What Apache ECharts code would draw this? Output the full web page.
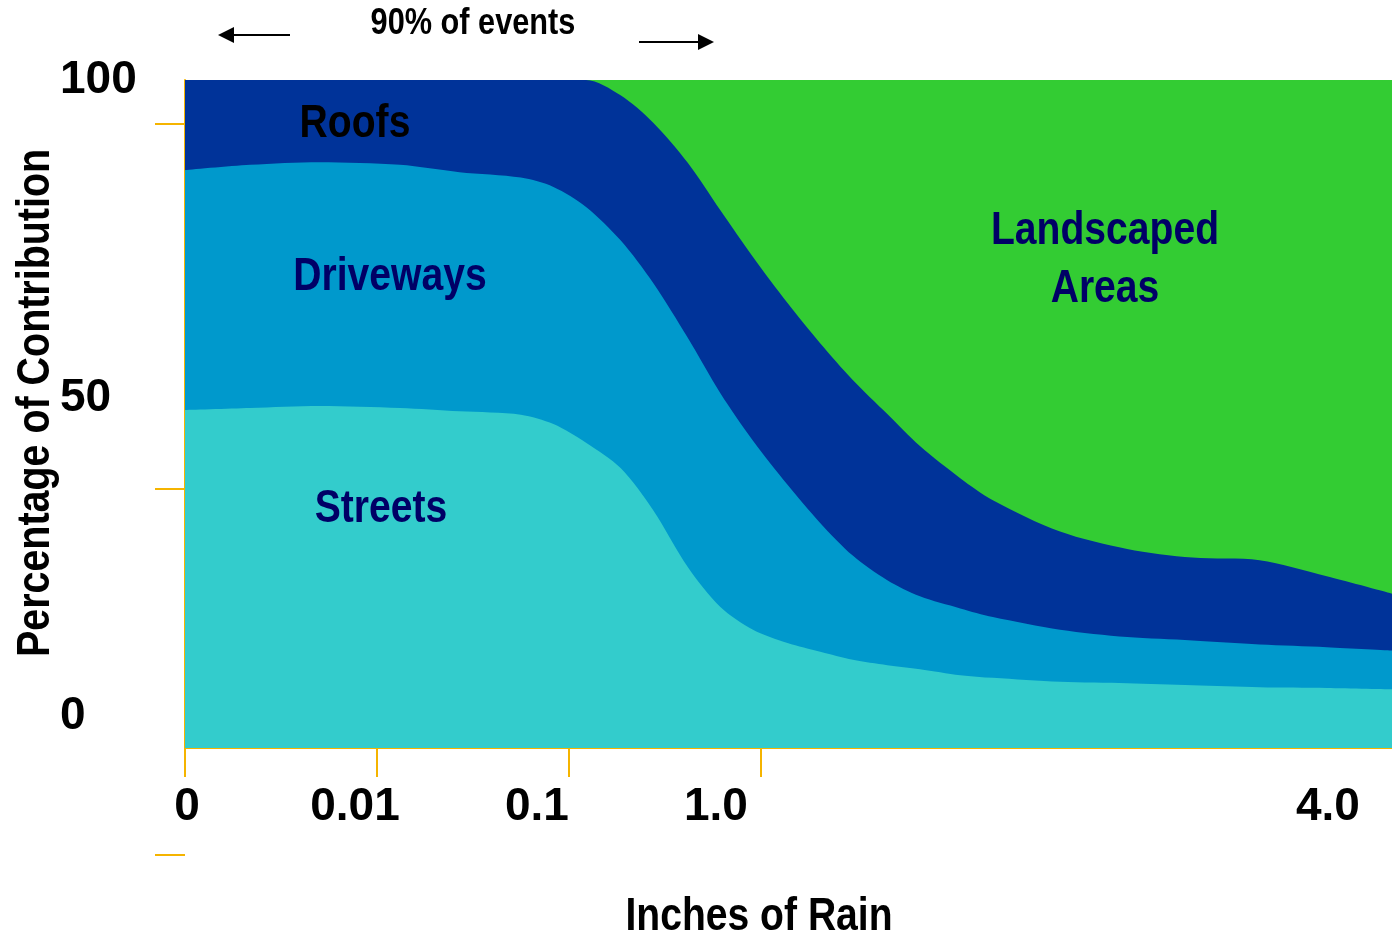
<!DOCTYPE html>
<html>
<head>
<meta charset="utf-8">
<script src="https://cdn.jsdelivr.net/npm/echarts@6/dist/echarts.min.js"></script>
<style>
  html, body { margin: 0; padding: 0; background: #fff; }
  #chart { width: 1392px; height: 937px; }
</style>
</head>
<body>
<div id="chart"></div>
<script>
// x positions along the (log-like) rain axis, in tick spacings: 0 -> "0", 1 -> "0.01", 2 -> "0.1", 3 -> "1.0"
var rainPos = [0, 0.34, 0.70, 1.12, 1.43, 1.75, 1.92, 2.09, 2.27, 2.44, 2.62, 2.79, 2.96, 3.14, 3.31, 3.48, 3.66, 3.83, 4.04, 4.21, 4.56, 4.91, 5.25, 5.60, 5.95, 6.29];

// percentage of contribution per source
var streets    = [50.6, 50.9, 51.2, 50.9, 50.4, 49.9, 48.5, 45.7, 41.9, 35.6, 27.1, 21.1, 17.7, 15.7, 14.4, 13.2, 12.4, 11.8, 10.9, 10.5, 9.9, 9.7, 9.4, 9.1, 9.0, 8.8];
var driveways  = [35.9, 36.4, 36.5, 36.4, 35.8, 35.5, 35.5, 35.3, 34.1, 34.0, 34.3, 32.0, 28.3, 23.7, 19.3, 15.6, 12.7, 10.9, 10.0, 9.1, 7.8, 6.9, 6.7, 6.4, 6.1, 5.8];
var roofs      = [13.5, 12.7, 12.3, 12.7, 13.8, 14.6, 16.0, 19.0, 21.7, 24.0, 26.2, 27.4, 27.5, 27.2, 26.9, 26.3, 24.9, 22.5, 19.5, 17.5, 14.7, 13.2, 12.4, 12.6, 10.6, 8.5];
var landscaped = [0, 0, 0, 0, 0, 0, 0, 0, 2.3, 6.4, 12.4, 19.5, 26.5, 33.4, 39.4, 44.9, 50.0, 54.8, 59.6, 62.9, 67.6, 70.2, 71.5, 71.9, 74.3, 76.9];

var xTickPos = [0, 1, 2, 3];
var xLabelPos = [0.01, 0.886, 1.834, 2.767, 5.956];
var xLabels = ['0', '0.01', '0.1', '1.0', '4.0'];
var yLabelPos = [100, 52.4, 4.8];
var yLabels = ['100', '50', '0'];
var yTickPos = [93.4, 38.8, -16];

var FONT = "'Liberation Sans', Arial, sans-serif";
var ORANGE = '#f5b400';

// running totals so each layer sits on the ones below it
var layers = [streets, driveways, roofs, landscaped];
var cumulative = [];
layers.forEach(function (vals, k) {
    cumulative.push(vals.map(function (v, i) {
        return k === 0 ? v : Math.round((cumulative[k - 1][i] + v) * 100) / 100;
    }));
});

function area(name, vals, color) {
    return {
        name: name,
        type: 'line',
        smooth: 0.3,
        showSymbol: false,
        symbol: 'none',
        lineStyle: { width: 0 },
        areaStyle: { color: color, opacity: 1, origin: 'start' },
        itemStyle: { color: color },
        data: vals.map(function (v, i) { return [rainPos[i], Math.min(v, 100)]; }),
        animation: false
    };
}

function label(text, x, y, color, size, sx) {
    return {
        type: 'text', x: x, y: y, z: 100, scaleX: sx || 0.85,
        style: { text: text, textAlign: 'center', textVerticalAlign: 'middle', fill: color, font: 'bold ' + size + 'px ' + FONT }
    };
}

var myChart = echarts.init(document.getElementById('chart'));

var option = {
    backgroundColor: '#fff',
    animation: false,
    grid: [
        { left: 185, right: 0, top: 80, bottom: 189 },
        { left: 185, right: 0, top: 80, bottom: 79 }
    ],
    xAxis: [
        {
            gridIndex: 0,
            type: 'value',
            min: 0,
            max: 6.29,
            splitLine: { show: false },
            axisLine: { show: true, onZero: false, lineStyle: { color: ORANGE, width: 2 } },
            axisTick: { show: true, customValues: xTickPos, length: 29, lineStyle: { color: ORANGE, width: 2 } },
            axisLabel: {
                customValues: xLabelPos,
                margin: 36,
                color: '#000',
                fontFamily: FONT,
                fontWeight: 'bold',
                fontSize: 46,
                formatter: function (v) {
                    var i = xLabelPos.indexOf(v);
                    return i >= 0 ? xLabels[i] : '';
                }
            }
        },
        {
            gridIndex: 0,
            type: 'value',
            position: 'top',
            min: 0,
            max: 6.29,
            splitLine: { show: false },
            axisLine: { show: true, lineStyle: { color: ORANGE, width: 2 } },
            axisTick: { show: false },
            axisLabel: { show: false }
        },
        {
            gridIndex: 1,
            type: 'value',
            show: false
        }
    ],
    yAxis: [
        {
            gridIndex: 0,
            type: 'value',
            min: 0,
            max: 100,
            splitLine: { show: false },
            axisLine: { show: true, lineStyle: { color: ORANGE, width: 2 } },
            axisTick: { show: false },
            axisLabel: {
                customValues: yLabelPos,
                align: 'left',
                margin: 125,
                color: '#000',
                fontFamily: FONT,
                fontWeight: 'bold',
                fontSize: 46,
                formatter: function (v) {
                    var i = yLabelPos.indexOf(v);
                    return i >= 0 ? yLabels[i] : '';
                }
            }
        },
        {
            gridIndex: 1,
            type: 'value',
            min: -16.5,
            max: 100,
            splitLine: { show: false },
            axisLine: { show: false },
            axisTick: { show: true, customValues: yTickPos, length: 30, lineStyle: { color: ORANGE, width: 2 } },
            axisLabel: { show: false }
        }
    ],
    series: [
        area('Landscaped Areas', cumulative[3], '#33cc33'),
        area('Roofs', cumulative[2], '#003399'),
        area('Driveways', cumulative[1], '#0099cc'),
        area('Streets', cumulative[0], '#33cccc')
    ],
    graphic: [
        label('90% of events', 473, 24, '#000', 37, 0.83),
        { type: 'line', z: 100, shape: { x1: 230, y1: 35, x2: 290, y2: 35 }, style: { stroke: '#000', lineWidth: 2 } },
        { type: 'polygon', z: 100, shape: { points: [[218, 35], [234, 27], [234, 43]] }, style: { fill: '#000' } },
        { type: 'line', z: 100, shape: { x1: 639, y1: 42, x2: 702, y2: 42 }, style: { stroke: '#000', lineWidth: 2 } },
        { type: 'polygon', z: 100, shape: { points: [[714, 42], [698, 34], [698, 50]] }, style: { fill: '#000' } },
        label('Roofs', 355, 124, '#000', 46),
        label('Driveways', 390, 277, '#000066', 46),
        label('Streets', 381, 509, '#000066', 46),
        label('Landscaped', 1105, 231, '#000066', 46),
        label('Areas', 1105, 289, '#000066', 46),
        label('Inches of Rain', 759, 917, '#000', 46),
        {
            type: 'text', x: 36, y: 403, z: 100, rotation: Math.PI / 2, scaleX: 0.857,
            style: { text: 'Percentage of Contribution', textAlign: 'center', textVerticalAlign: 'middle', fill: '#000', font: 'bold 46px ' + FONT }
        }
    ]
};

myChart.setOption(option);
</script>
</body>
</html>
